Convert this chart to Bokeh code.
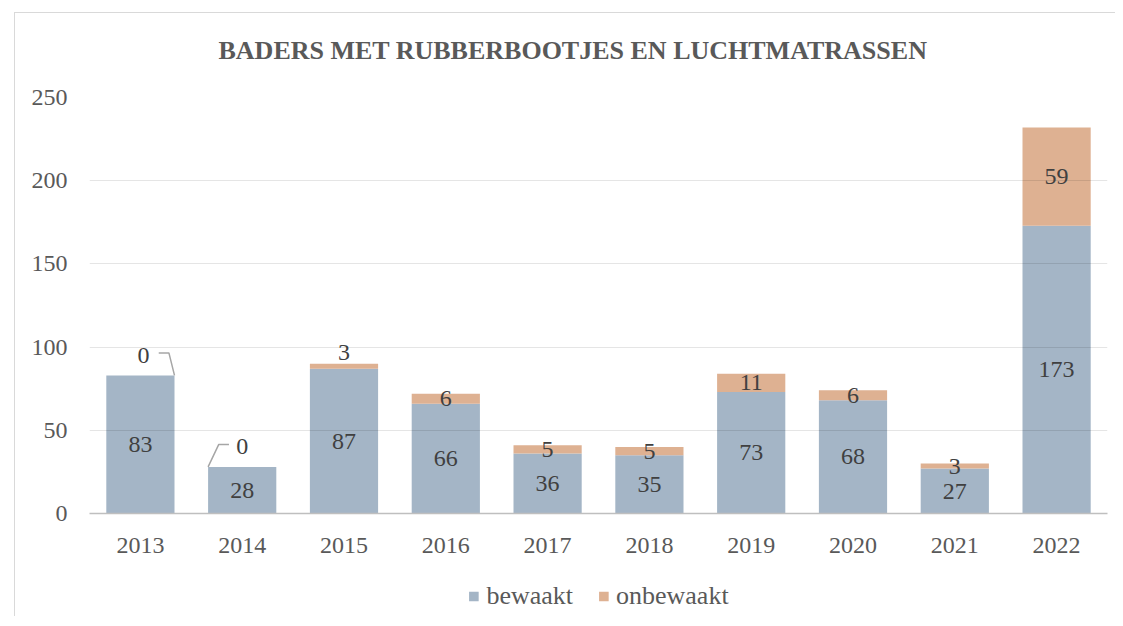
from bokeh.plotting import figure
from bokeh.layouts import column
from bokeh.models import (ColumnDataSource, Legend, LegendItem, Title,
                          FactorRange, FixedTicker)
from bokeh.embed import file_html
from bokeh.resources import INLINE
from bokeh.core.properties import value

years = ["2013", "2014", "2015", "2016", "2017", "2018", "2019", "2020", "2021", "2022"]
bewaakt = [83, 28, 87, 66, 36, 35, 73, 68, 27, 173]
onbewaakt = [0, 0, 3, 6, 5, 5, 11, 6, 3, 59]
y_ticks = [0, 50, 100, 150, 200, 250]
title_text = "BADERS MET RUBBERBOOTJES EN LUCHTMATRASSEN"
series_names = ["bewaakt", "onbewaakt"]

FONT = "Liberation Serif"
BLUE = "#a4b5c6"
ORANGE = "#deb192"

src = ColumnDataSource(dict(year=years, bewaakt=bewaakt, onbewaakt=onbewaakt))

p = figure(x_range=FactorRange(*years), y_range=(0, 250),
           frame_width=1018, frame_height=416,
           output_backend="svg", toolbar_location=None,
           min_border_left=89, min_border_right=8, min_border_top=97, min_border_bottom=63,
           outline_line_color=None, background_fill_color="white", border_fill_alpha=0)

rs = p.vbar_stack(series_names, x="year", width=0.67, color=[BLUE, ORANGE],
                  line_color=None, source=src)
for r in rs:
    r.level = "underlay"

# grid
p.xgrid.visible = False
p.ygrid.grid_line_color = "black"
p.ygrid.grid_line_alpha = 0.1
p.ygrid.grid_line_width = 1
p.ygrid.level = "glyph"
p.yaxis.ticker = FixedTicker(ticks=y_ticks)

# axes
for ax in (p.xaxis, p.yaxis):
    ax.major_tick_line_color = None
    ax.minor_tick_line_color = None
    ax.major_label_text_font = FONT
    ax.major_label_text_font_size = "24px"
    ax.major_label_text_color = "#595959"
p.yaxis.axis_line_color = None
p.yaxis.major_label_standoff = 16
p.xaxis.axis_line_color = "#bfbfbf"
p.xaxis.axis_line_width = 1.5
p.xaxis.major_label_standoff = 18

# data labels
lx, ly, lt = [], [], []
zx, zy, zt = [], [], []
leader_xs, leader_ys = [], []
for i, (y, b, o) in enumerate(zip(years, bewaakt, onbewaakt)):
    c = i + 0.5
    lx.append(y); ly.append(b / 2); lt.append(str(b))
    if o == 0:
        top = b + 12
        if i % 2 == 0:
            zx.append(c + 0.03)
            leader_xs.append([c + 0.18, c + 0.28, c + 0.335])
        else:
            zx.append(c)
            leader_xs.append([c - 0.13, c - 0.23, c - 0.335])
        zy.append(top); zt.append("0")
        leader_ys.append([top + 1.5, top + 1.5, b])
    else:
        mid = b + o / 2
        if o <= 3 and b > 50:
            mid = b + o + 7
        lx.append(y); ly.append(mid); lt.append(str(o))

p.text(x=lx, y=ly, text=lt, text_font=value(FONT), text_font_size="24px",
       text_color="#404040", text_align="center", text_baseline="middle", level="annotation")
p.text(x=zx, y=zy, text=zt, text_font=value(FONT), text_font_size="24px",
       text_color="#404040", text_align="center", text_baseline="middle", level="annotation")
p.multi_line(xs=leader_xs, ys=leader_ys, line_color="#a6a6a6", line_width=1.5)

# title
p.add_layout(Title(text=title_text, text_font=FONT, text_font_size="26px",
                   text_font_style="bold", text_color="#595959", align="left",
                   offset=129, standoff=66), "above")

# legend strip (its frame is centred under the legend position of the reference)
lf = figure(width=1115, height=40, x_range=(0, 1), y_range=(0, 1),
            output_backend="svg", toolbar_location=None,
            x_axis_location=None, y_axis_location=None,
            min_border_left=42, min_border_right=0, min_border_top=0, min_border_bottom=0,
            outline_line_color=None, background_fill_alpha=0, border_fill_alpha=0)
lf.grid.visible = False
lr = [lf.vbar(x=[-5], top=[0], width=0.5, color=c, line_color=None) for c in (BLUE, ORANGE)]
legend = Legend(items=[LegendItem(label=n, renderers=[r]) for n, r in zip(series_names, lr)],
                orientation="horizontal", location="center", border_line_color=None,
                label_text_font=FONT, label_text_font_size="26px", label_text_color="#595959",
                glyph_width=12, glyph_height=12, label_standoff=7, spacing=24,
                padding=0, margin=0, background_fill_alpha=0)
lf.add_layout(legend)

layout = column(p, lf, spacing=0)
layout.styles = {
    "background": "linear-gradient(#d9d9d9,#d9d9d9) 14px 12px / 100% 1px no-repeat, "
                  "linear-gradient(#d9d9d9,#d9d9d9) 14px 12px / 1px 100% no-repeat, white"
}

open("out.html", "w").write(file_html(layout, INLINE))
